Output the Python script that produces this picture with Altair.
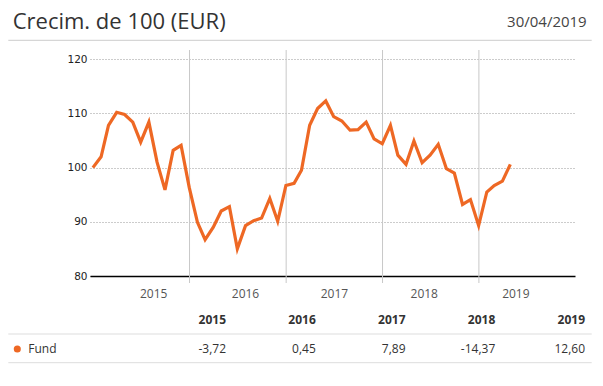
import altair as alt
import pandas as pd

# ---------------- data ----------------
title_text = "Crecim. de 100 (EUR)"
date_text = "30/04/2019"
series_name = "Fund"

# month-end values of the "growth of 100" series, 2014-12-31 .. 2019-04-30
values = [100.0, 102.0, 107.8, 110.2, 109.8, 108.4, 104.7, 108.4, 101.0, 95.9, 103.2, 104.1,
          96.3, 89.9, 86.7, 89.0, 92.0, 92.8, 85.0, 89.3, 90.2, 90.7, 94.3, 90.1,
          96.7, 97.1, 99.5, 107.8, 110.9, 112.3, 109.4, 108.6, 106.9, 107.0, 108.4, 105.3,
          104.4, 107.8, 102.3, 100.6, 104.9, 100.9, 102.3, 104.3, 99.8, 99.0, 93.2, 94.1,
          89.3, 95.5, 96.7, 97.5, 100.6]
dates = pd.date_range("2014-12-31", periods=len(values), freq="ME")

year_lines = ["2016-01-01", "2017-01-01", "2018-01-01", "2019-01-01"]
axis_years = ["2015", "2016", "2017", "2018", "2019"]
axis_year_dates = ["2015-08-18", "2016-07-31", "2017-07-03", "2018-06-08", "2019-05-21"]

table_years = ["2015", "2016", "2017", "2018", "2019"]
table_returns = [-3.72, 0.45, 7.89, -14.37, 12.60]

y_ticks = [80, 90, 100, 110, 120]

# ---------------- styling ----------------
ORANGE = "#EE6824"
FONT = "Open Sans"
W, H = 485, 226

df_line = pd.DataFrame({"date": dates, "value": values})
df_years = pd.DataFrame({"d": pd.to_datetime(year_lines)})
df_axis = pd.DataFrame({"d": pd.to_datetime(axis_year_dates), "label": axis_years})
df_table = pd.DataFrame({
    "year": table_years,
    "ret": [f"{v:.2f}".replace(".", ",") for v in table_returns],
})
one = pd.DataFrame({"t": [title_text], "dt": [date_text], "s": [series_name]})

xs = alt.Scale(domain=["2014-12-20", "2019-12-31"])
ys = alt.Scale(domain=[80, 121.7], nice=False, zero=False)

year_rules = alt.Chart(df_years).mark_rule(color="#c8c8c8", strokeWidth=1).encode(
    x=alt.X("d:T", scale=xs, axis=None),
    y=alt.value(0),
    y2=alt.value(H + 7),
)

line = alt.Chart(df_line).mark_line(color=ORANGE, strokeWidth=3.2, strokeJoin="miter").encode(
    x=alt.X("date:T", scale=xs,
            axis=alt.Axis(labels=False, ticks=False, grid=False, domainColor="#000000",
                          domainWidth=1.3, title=None)),
    y=alt.Y("value:Q", scale=ys,
            axis=alt.Axis(values=y_ticks, grid=True, gridDash=[1, 2], gridColor="#999999",
                          domain=False, ticks=False, labelPadding=3, labelFont="DejaVu Sans",
                          labelFontSize=10.5, labelColor="#222222", title=None)),
)

axis_labels = alt.Chart(df_axis).mark_text(font=FONT, fontSize=12, color="#555555",
                                           align="center", baseline="alphabetic").encode(
    x=alt.X("d:T", scale=xs, axis=None),
    y=alt.value(248),
    text="label:N",
)

col_scale = alt.Scale(type="point", domain=table_years, range=[136, 495], padding=0)

table_head = alt.Chart(df_table).mark_text(font=FONT, fontSize=12, fontWeight="bold",
                                           color="#333333", align="right",
                                           baseline="alphabetic").encode(
    x=alt.X("year:O", scale=col_scale, axis=None),
    y=alt.value(274),
    text="year:N",
)

table_vals = alt.Chart(df_table).mark_text(font=FONT, fontSize=12, color="#333333",
                                           align="right", baseline="alphabetic").encode(
    x=alt.X("year:O", scale=col_scale, axis=None),
    y=alt.value(303.3),
    text="ret:N",
)

title = alt.Chart(one).mark_text(font=FONT, fontSize=22, color="#333333", align="left",
                                 baseline="alphabetic").encode(
    x=alt.value(-77.3), y=alt.value(-20.7), text="t:N")

date_lbl = alt.Chart(one).mark_text(font=FONT, fontSize=15, color="#444444", align="right",
                                    baseline="alphabetic").encode(
    x=alt.value(496.7), y=alt.value(-23.3), text="dt:N")

fund_dot = alt.Chart(one).mark_point(filled=True, size=50, color=ORANGE, opacity=1).encode(
    x=alt.value(-72.7), y=alt.value(299))

fund_lbl = alt.Chart(one).mark_text(font=FONT, fontSize=12, color="#333333", align="left",
                                    baseline="alphabetic").encode(
    x=alt.value(-61.7), y=alt.value(303.3), text="s:N")

header_rule = alt.Chart(one).mark_rule(color="#cccccc", strokeWidth=1).encode(
    x=alt.value(-81.7), x2=alt.value(501.7), y=alt.value(-9.7))
sep_rule = alt.Chart(one).mark_rule(color="#dddddd", strokeWidth=1).encode(
    x=alt.value(-81.7), x2=alt.value(501.7), y=alt.value(284))
bottom_rule = alt.Chart(one).mark_rule(color="#dddddd", strokeWidth=1).encode(
    x=alt.value(-81.7), x2=alt.value(501.7), y=alt.value(312.7))

chart = alt.layer(
    year_rules, line, axis_labels, table_head, table_vals, title, date_lbl,
    fund_dot, fund_lbl, header_rule, sep_rule, bottom_rule,
).resolve_scale(x="independent").properties(
    width=W, height=H,
    padding={"left": 82, "top": 42, "right": 18, "bottom": 110},
    autosize=alt.AutoSizeParams(type="none"),
).configure_view(stroke=None)

chart.save("out.html", embed_options={"renderer": "svg", "actions": False})
